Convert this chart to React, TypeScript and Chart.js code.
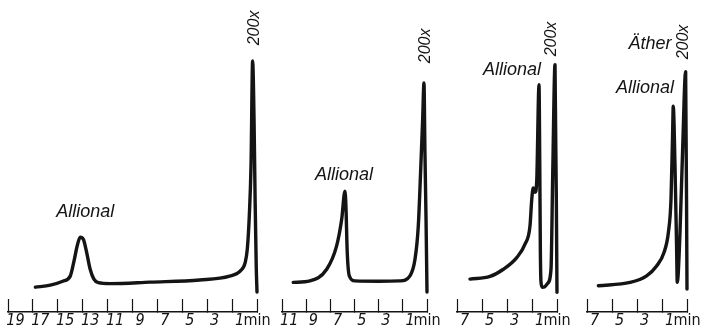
import React, { useEffect, useRef } from 'react';
import { Chart, registerables } from 'chart.js';

Chart.register(...registerables);

// ---- data (time in minutes before injection end, signal in arbitrary units) ----
const P1_TIME = [17.8, 16.6, 15.6, 15.0, 14.7, 14.45, 14.2, 13.95, 13.7, 13.4, 13.1, 12.75, 11.8, 8.6, 4.6, 2.2, 1.35, 0.95, 0.78, 0.62, 0.48, 0.35, 0.24, 0.15, 0.06, 0.0];
const P1_SIGNAL = [8.3, 9.0, 10.3, 12, 17, 22, 25, 24.3, 20.3, 14.3, 11, 9.8, 9.5, 10, 10.7, 12, 13.7, 16.5, 21, 32, 49, 84, 65, 37, 15, 6.7];

const P2_TIME = [11.07, 9.69, 8.3, 7.48, 7.06, 6.79, 6.71, 6.6, 6.43, 5.96, 4.0, 2.24, 1.41, 0.99, 0.72, 0.52, 0.36, 0.25, 0.17, 0.08, 0.0];
const P2_SIGNAL = [9.9, 10.4, 14.3, 22.1, 31, 40.4, 35.4, 19.9, 12.1, 10.4, 10.3, 10.4, 12.1, 17.7, 28.8, 47.7, 64.3, 76.6, 53.3, 31, 6.7];

const P3_TIME = [6.96, 5.36, 4.29, 3.22, 2.56, 2.16, 2.02, 1.9, 1.75, 1.62, 1.44, 1.38, 1.33, 1.28, 1.18, 1.0, 0.75, 0.48, 0.34, 0.16, 0.0];
const P3_SIGNAL = [11, 11.9, 14.3, 18.2, 22.7, 28.8, 37.7, 41.5, 40, 44, 76, 50, 20, 10, 8.3, 8.4, 9.6, 14.3, 46.6, 82.7, 6.6];

const P4_TIME = [7.09, 4.56, 3.23, 2.43, 1.84, 1.49, 1.28, 1.15, 1.1, 0.96, 0.83, 0.78, 0.56, 0.35, 0.11, 0.0];
const P4_SIGNAL = [8.8, 9.9, 12.1, 15.4, 19.9, 26.6, 37.7, 59.9, 68.8, 48.8, 21, 9.9, 26.6, 54.3, 80.4, 7.7];

// ---- axis ranges and tick labels ----
const P1_MAX = 20;
const P2_MAX = 12;
const P3_MAX = 8;
const P4_MAX = 8;
const P1_LABELS = [19, 17, 15, 13, 11, 9, 7, 5, 3, 1];
const P2_LABELS = [11, 9, 7, 5, 3, 1];
const P3_LABELS = [7, 5, 3, 1];
const P4_LABELS = [7, 5, 3, 1];
const UNIT_LABEL = 'min';

// ---- peak annotations ----
const P1_NOTES = [
  { text: 'Allional', t: 13.8, y: 33.3, vertical: false },
  { text: '200x', t: 0.16, y: 95, vertical: true },
];
const P2_NOTES = [
  { text: 'Allional', t: 6.87, y: 45.7, vertical: false },
  { text: '200x', t: 0.08, y: 89, vertical: true },
];
const P3_NOTES = [
  { text: 'Allional', t: 3.6, y: 81, vertical: false },
  { text: '200x', t: 0.4, y: 91.3, vertical: true },
];
const P4_NOTES = [
  { text: 'Äther', t: 2.96, y: 89.7, vertical: false },
  { text: 'Allional', t: 3.36, y: 75, vertical: false },
  { text: '200x', t: 0.24, y: 90.3, vertical: true },
];

// ---- layout ----
const PAD_L = 20;
const PAD_R = 30;
const CANVAS_H = 343;
const LABEL_SHIFT = 0.4;
const TEXT_FONT = "'Liberation Sans', Arial, sans-serif";
const TICK_FONT = "'Liberation Sans Narrow', 'DejaVu Sans Condensed', 'Liberation Sans', sans-serif";
const INK = '#141414';

const PANELS = [
  { time: P1_TIME, signal: P1_SIGNAL, max: P1_MAX, labels: P1_LABELS, notes: P1_NOTES, left: 8, right: 257 },
  { time: P2_TIME, signal: P2_SIGNAL, max: P2_MAX, labels: P2_LABELS, notes: P2_NOTES, left: 282, right: 427 },
  { time: P3_TIME, signal: P3_SIGNAL, max: P3_MAX, labels: P3_LABELS, notes: P3_NOTES, left: 457, right: 557 },
  { time: P4_TIME, signal: P4_SIGNAL, max: P4_MAX, labels: P4_LABELS, notes: P4_NOTES, left: 587, right: 687 },
];

const notesPlugin = {
  id: 'notes',
  afterDatasetsDraw(chart: any, _args: any, opts: any) {
    const items = (opts && opts.items) || [];
    const { ctx } = chart;
    const x = chart.scales.x;
    const y = chart.scales.y;
    ctx.save();
    ctx.fillStyle = INK;
    ctx.textAlign = 'center';
    ctx.textBaseline = 'middle';
    for (const n of items) {
      const px = x.getPixelForValue(n.t);
      const py = y.getPixelForValue(n.y);
      ctx.save();
      ctx.translate(px, py);
      if (n.vertical) {
        ctx.rotate(-Math.PI / 2);
        ctx.font = `italic 16px ${TEXT_FONT}`;
      } else {
        ctx.font = `italic 18px ${TEXT_FONT}`;
      }
      ctx.fillText(n.text, 0, 0);
      ctx.restore();
    }
    ctx.restore();
  },
};

function isEven(v: number) {
  const r = Math.round(v);
  return Math.abs(v - r) < 1e-6 && r % 2 === 0;
}

function PanelChart({ panel }: { panel: any }) {
  const ref = useRef<HTMLCanvasElement | null>(null);
  const width = panel.right - panel.left + PAD_L + PAD_R;

  useEffect(() => {
    if (!ref.current) return;
    const points = panel.time.map((t: number, i: number) => ({ x: t, y: panel.signal[i] }));
    const chart = new Chart(ref.current, {
      type: 'line',
      data: {
        datasets: [
          {
            data: points,
            borderColor: INK,
            borderWidth: 3.4,
            pointRadius: 0,
            cubicInterpolationMode: 'monotone',
            borderJoinStyle: 'round',
            borderCapStyle: 'round',
            fill: false,
            clip: false as any,
          },
        ],
      },
      options: {
        animation: false,
        responsive: false,
        devicePixelRatio: 1,
        layout: { padding: { left: PAD_L, right: PAD_R, top: 13, bottom: 0 } },
        plugins: {
          legend: { display: false },
          tooltip: { enabled: false },
          notes: { items: panel.notes },
        } as any,
        scales: {
          x: {
            type: 'linear',
            reverse: true,
            min: 0,
            max: panel.max,
            afterBuildTicks: (scale: any) => {
              const ticks: any[] = [];
              for (let v = 0; v <= panel.max; v += 2) ticks.push({ value: v });
              panel.labels.forEach((l: number) => ticks.push({ value: l + LABEL_SHIFT }));
              ticks.sort((a, b) => a.value - b.value);
              scale.ticks = ticks;
            },
            grid: {
              display: true,
              drawOnChartArea: false,
              drawTicks: true,
              tickLength: -13,
              tickWidth: 1.2,
              tickColor: (ctx: any) => (ctx.tick && isEven(ctx.tick.value) ? INK : 'rgba(0,0,0,0)'),
            },
            border: { display: true, color: INK, width: 1.6 },
            ticks: {
              autoSkip: false,
              maxRotation: 0,
              minRotation: 0,
              padding: 14,
              color: INK,
              font: (ctx: any) => ({
                family: TICK_FONT,
                size: 16,
                lineHeight: 1,
                style: ctx.tick && Math.abs(ctx.tick.value) < 1e-9 ? 'normal' : 'italic',
              }),
              callback: (value: any) => {
                const v = Number(value);
                if (Math.abs(v) < 1e-9) return UNIT_LABEL;
                const lab = panel.labels.find((l: number) => Math.abs(l + LABEL_SHIFT - v) < 1e-6);
                return lab !== undefined ? String(lab) : '';
              },
            },
          },
          y: {
            type: 'linear',
            display: false,
            min: 0,
            max: 100,
          },
        },
      } as any,
      plugins: [notesPlugin as any],
    });
    return () => chart.destroy();
  }, [panel]);

  return (
    <canvas
      ref={ref}
      width={width}
      height={CANVAS_H}
      style={{ position: 'absolute', left: panel.left - PAD_L, top: 0, width, height: CANVAS_H }}
    />
  );
}

export default function App() {
  return (
    <div
      style={{
        position: 'fixed',
        left: 0,
        top: 0,
        width: 708,
        height: 336,
        overflow: 'hidden',
        background: '#ffffff',
      }}
    >
      {PANELS.map((p, i) => (
        <PanelChart key={i} panel={p} />
      ))}
    </div>
  );
}
